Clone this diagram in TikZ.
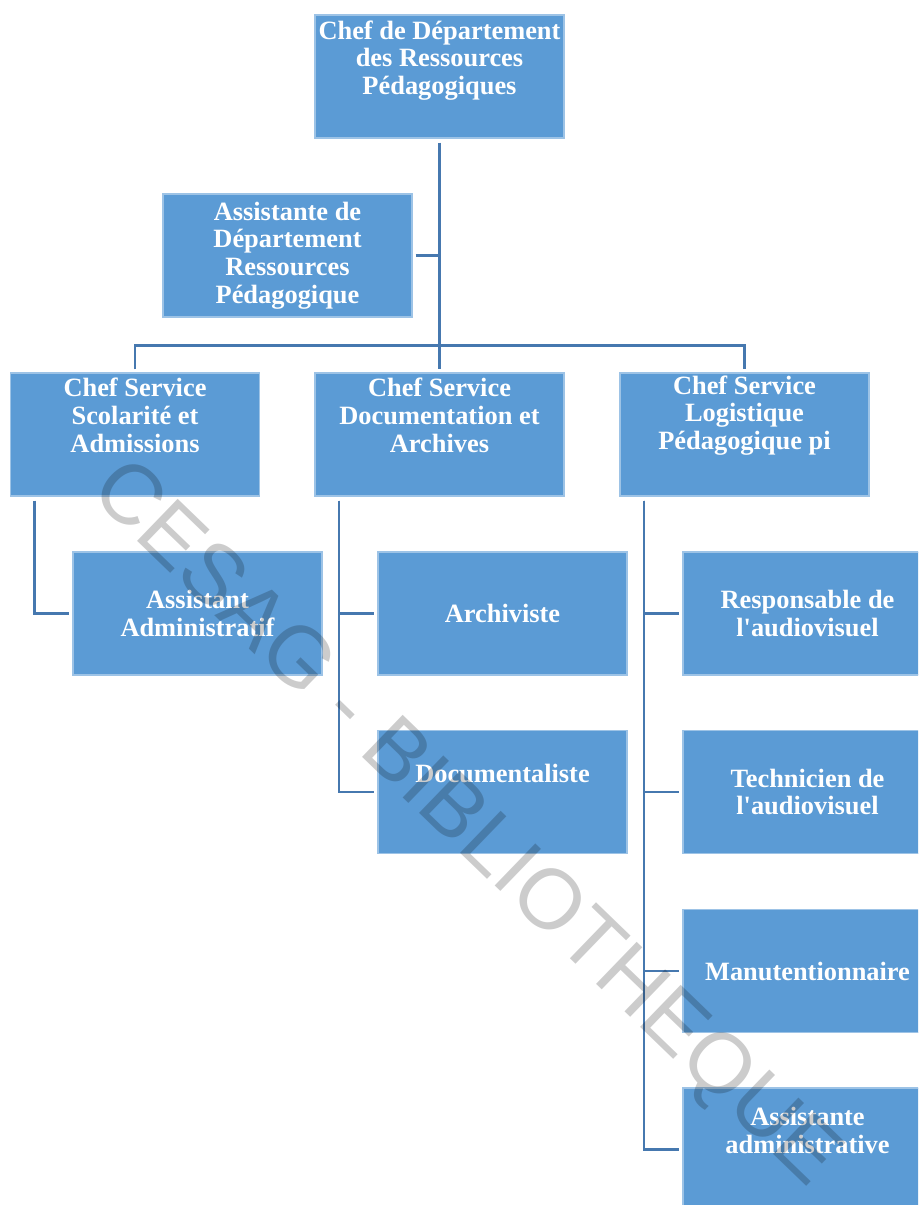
\documentclass[tikz,border=0pt]{standalone}
\usepackage{fontspec}
\setmainfont{Liberation Serif}
\newfontfamily\markfont{Liberation Sans}
\definecolor{boxblue}{RGB}{91,155,213}
\definecolor{linkblue}{RGB}{70,120,175}
\newcommand{\orgfont}{\fontsize{13.2}{13.9}\selectfont\bfseries}
\tikzset{
  box/.style={fill=boxblue, draw=white!40!boxblue, line width=0.6pt,
    minimum width=124.5pt, minimum height=61.5pt, inner sep=0pt,
    text=white, font=\orgfont, align=center},
  toptext/.style={label={[text=white, font=\orgfont, align=center, yshift=9.5pt]center:{#1}}},
  headtext/.style={label={[text=white, font=\orgfont, align=center, yshift=8pt]center:{#1}}},
  link/.style={draw=linkblue, line width=1.4pt},
}
\begin{document}
\begin{tikzpicture}[x=0.5pt,y=-0.5pt]
  \useasboundingbox (0,0) rectangle (918,1205);
  \clip (0,0) rectangle (918,1205);

  % head of the department
  \node[box, headtext={Chef de Département\\des Ressources\\Pédagogiques}] (chef) at (439.5,76.5) {};
  \node[box] (assist) at (287.5,255.5) {Assistante de\\Département\\Ressources\\Pédagogique};

  % service heads
  \node[box, toptext={Chef Service\\Scolarité et\\Admissions}] (scol) at (135,434.5) {};
  \node[box, toptext={Chef Service\\Documentation et\\Archives}] (docs) at (439.5,434.5) {};
  \node[box, toptext={Chef Service\\Logistique\\Pédagogique pi}] (logi) at (744.5,434.5) {};

  % staff
  \node[box] (admin) at (197.5,613.5) {Assistant\\Administratif};
  \node[box] (archi) at (502.5,613.5) {Archiviste};
  \node[box, toptext={Documentaliste}] (docum) at (502.5,792) {};
  \node[box] (respo) at (807.5,613.5) {Responsable de\\l\textquotesingle audiovisuel};
  \node[box] (techn) at (807.5,792) {Technicien de\\l\textquotesingle audiovisuel};
  \node[box] (manut) at (807.5,971) {Manutentionnaire};
  \node[box, toptext={Assistante\\administrative}] (asadm) at (807.5,1149.5) {};

  % links
  \draw[link, shorten <=2pt, shorten >=1.5pt] (chef) -- (docs);
  \draw[link, shorten <=1.5pt] (assist) -- (assist -| chef);
  \coordinate (bar) at ([yshift=13.5pt]docs.north);
  \draw[link, shorten <=1.5pt, shorten >=1.5pt] (scol) |- (bar) -| (logi);

  \draw[link, shorten <=2pt, shorten >=1.5pt] ([xshift=12.25pt]scol.south west) |- (admin);
  \foreach \kid in {archi,docum}
    \draw[link, shorten <=2pt, shorten >=1.5pt] ([xshift=12.25pt]docs.south west) |- (\kid);
  \foreach \kid in {respo,techn,manut,asadm}
    \draw[link, shorten <=2pt, shorten >=1.5pt] ([xshift=12.25pt]logi.south west) |- (\kid);

  % watermark
  \node[font=\markfont\fontsize{42.5}{42.5}\selectfont, text=black, opacity=0.2, rotate=-44] (mark) at (464,826) {CESAG - BIBLIOTHEQUE};
\end{tikzpicture}
\end{document}
